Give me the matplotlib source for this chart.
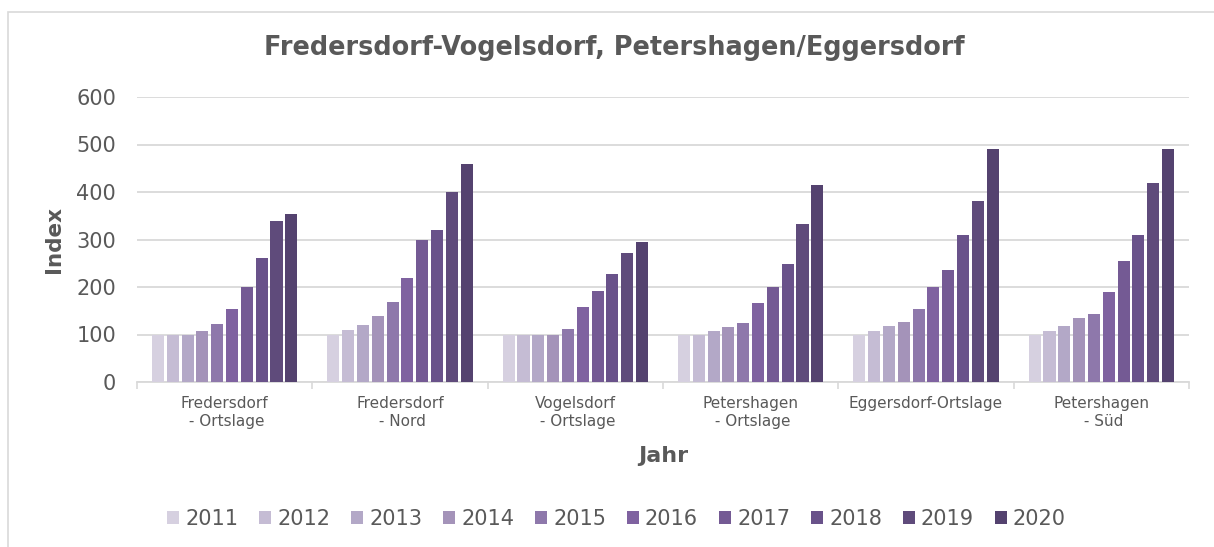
import numpy as np
import matplotlib
matplotlib.use('Agg')
import matplotlib.pyplot as plt
from matplotlib.patches import Rectangle

categories = ["Fredersdorf\n - Ortslage", "Fredersdorf\n - Nord", "Vogelsdorf\n - Ortslage",
              "Petershagen\n - Ortslage", "Eggersdorf-Ortslage", "Petershagen\n - Süd"]
years = ["2011", "2012", "2013", "2014", "2015", "2016", "2017", "2018", "2019", "2020"]

# index values per year, one entry per category
v2011 = [100, 100, 100, 100, 100, 100]
v2012 = [100, 109, 100, 100, 108, 108]
v2013 = [100, 119, 100, 107, 118, 118]
v2014 = [107, 138, 100, 115, 126, 135]
v2015 = [122, 168, 112, 124, 154, 144]
v2016 = [153, 219, 158, 166, 199, 190]
v2017 = [199, 299, 192, 199, 236, 254]
v2018 = [261, 320, 227, 249, 309, 309]
v2019 = [338, 400, 272, 333, 382, 418]
v2020 = [353, 459, 294, 415, 490, 490]
values = [v2011, v2012, v2013, v2014, v2015, v2016, v2017, v2018, v2019, v2020]

colors = ['#d6d0e0', '#c5bcd4', '#b3a8c7', '#a493b9', '#8e78ab', '#7f62a0',
          '#745a94', '#69528a', '#5f4b7b', '#54426f']

text_col = '#595959'
grid_col = '#d9d9d9'

fig = plt.figure(figsize=(12.14, 5.47), dpi=100)
fig.patches.append(Rectangle((8 / 1214, -0.01), 1.02, (547 - 12) / 547 + 0.01,
                             transform=fig.transFigure, fill=False,
                             edgecolor=grid_col, linewidth=1.2))

ax = fig.add_axes([137 / 1214, 165 / 547, 1052 / 1214, 285 / 547])

x = np.arange(len(categories))
step = 0.0845
width = 0.069
for i, (vals, c) in enumerate(zip(values, colors)):
    ax.bar(x + (i - 4.5) * step, vals, width, color=c, label=years[i], zorder=3)

ax.set_xlim(-0.5, len(categories) - 0.5)
ax.set_ylim(0, 600)
ax.set_yticks(range(0, 601, 100))
ax.yaxis.grid(True, color=grid_col, linewidth=1.3, zorder=0)
ax.tick_params(axis='y', length=0, labelsize=15, labelcolor=text_col, pad=15)

ax.set_xticks(x)
ax.set_xticklabels(categories, fontsize=11, color=text_col, linespacing=1.3)
ax.tick_params(axis='x', length=0, pad=10)
ax.set_xticks(np.arange(-0.5, len(categories)), minor=True)
ax.tick_params(axis='x', which='minor', length=5, color=grid_col, width=1.2)

for s in ['top', 'right', 'left']:
    ax.spines[s].set_visible(False)
ax.spines['bottom'].set_color(grid_col)
ax.spines['bottom'].set_linewidth(1.3)

ax.set_ylabel("Index", fontsize=15.5, fontweight='bold', color=text_col, labelpad=9)
ax.set_xlabel("Jahr", fontsize=16, fontweight='bold', color=text_col, labelpad=12)

fig.text(0.506, 0.912, "Fredersdorf-Vogelsdorf, Petershagen/Eggersdorf", ha='center',
         va='center', fontsize=18.4, fontweight='bold', color=text_col)

leg = fig.legend(loc='center', bbox_to_anchor=(0.508, 0.051), ncol=10, frameon=False,
                 fontsize=15, handlelength=0.55, handleheight=0.55, handletextpad=0.3,
                 columnspacing=1.02, labelcolor=text_col)

fig.savefig("out.png", dpi=100)
